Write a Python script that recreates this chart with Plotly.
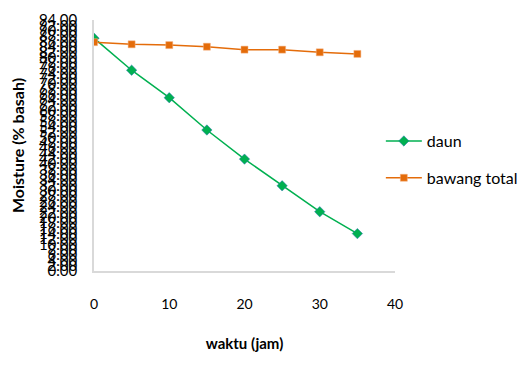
import plotly.graph_objects as go

waktu = [0, 5, 10, 15, 20, 25, 30, 35]
daun = [87.2, 75.2, 64.9, 52.8, 41.9, 31.9, 22.2, 14.0]
bawang_total = [85.7, 84.9, 84.6, 84.0, 82.9, 82.9, 81.9, 81.3]
y_ticks = list(range(0, 96, 2))
x_ticks = [0, 10, 20, 30, 40]

FONT = "Lato"

fig = go.Figure()
fig.add_trace(go.Scatter(
    x=waktu, y=daun, name="daun", mode="lines+markers",
    line=dict(color="#00B050", width=1.5),
    marker=dict(symbol="diamond", size=8, color="#00B050", line=dict(color="#2E75B6", width=0.5)),
    legendgroup="a"))
fig.add_trace(go.Scatter(
    x=waktu, y=bawang_total, name="bawang total", mode="lines+markers",
    line=dict(color="#E46C0A", width=1.5),
    marker=dict(symbol="square", size=7, color="#E46C0A", line=dict(color="#F4B183", width=0.5)),
    legendgroup="b"))

fig.update_layout(
    width=521, height=359,
    margin=dict(l=86, r=134, t=12, b=96, autoexpand=False),
    paper_bgcolor="white", plot_bgcolor="white",
    font=dict(family=FONT, size=14, color="black"),
    showlegend=True,
    legend=dict(x=0.953, xanchor="left", y=0.444, yanchor="middle",
                font=dict(family=FONT, size=16, color="black"),
                tracegroupgap=13, itemwidth=36, bgcolor="rgba(0,0,0,0)"),
    xaxis=dict(range=[0, 40], tickvals=x_ticks, showgrid=False, zeroline=False,
               showline=True, linecolor="#D9D9D9", linewidth=1.5, automargin=False,
               ticks="", ticklabelstandoff=19,
               tickfont=dict(family=FONT, size=14),
               title=dict(text="<b>waktu (jam)</b>", font=dict(family=FONT, size=15), standoff=28)),
    yaxis=dict(range=[0, 94], tickvals=y_ticks, tickformat=".2f", showgrid=False, zeroline=False,
               showline=True, linecolor="#D9D9D9", linewidth=1.5, automargin=False,
               ticks="outside", ticklen=12, tickcolor="rgba(0,0,0,0)",
               tickfont=dict(family=FONT, size=15),
               title=dict(text="<b>Moisture (% basah)</b>", font=dict(family=FONT, size=16), standoff=10)),
)

fig.write_html("out.html")
